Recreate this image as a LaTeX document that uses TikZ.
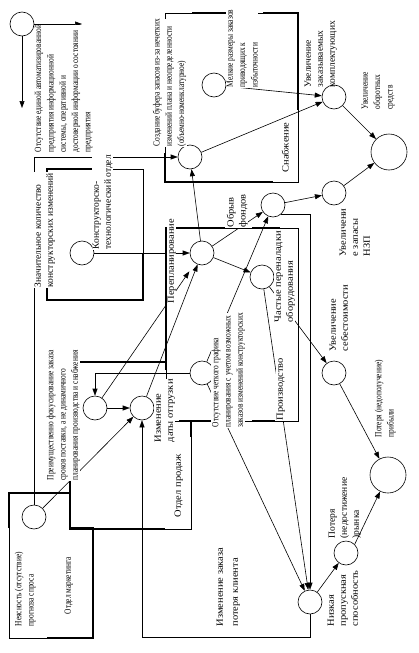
\documentclass[tikz,border=0pt]{standalone}
\usepackage{fontspec}
\setmainfont{Liberation Serif}
\newfontfamily\wfont{Liberation Serif}[FakeStretch=1.1]
\newfontfamily\cfont{Liberation Serif}[FakeStretch=0.78]
\usetikzlibrary{arrows.meta}
\begin{document}
\begin{tikzpicture}[x=1pt,y=-1pt,
 circ/.style={circle, draw, line width=0.6pt, minimum size=24pt, inner sep=0pt, fill=white},
 bigc/.style={circ, minimum size=36pt},
 arr/.style={-{Triangle[length=7pt,width=5pt]}, line width=0.6pt},
 thinl/.style={line width=0.6pt},
 thickl/.style={line width=2.4pt},
 lab/.style={rotate=90, anchor=north west, align=left, inner sep=0.5pt, fill=white, font=\fontsize{9.5}{12}\selectfont},
 labw/.style={lab, font=\wfont\fontsize{9.5}{12}\selectfont},
 labc/.style={lab, font=\cfont\fontsize{9.5}{12.3}\selectfont}]
\useasboundingbox (0,0) rectangle (419,653);
\fill[white] (0,0) rectangle (419,653);
% ---------- department frames ----------
% Snabzhenie
\draw[thinl] (165,13) rectangle (298,182);
\draw[thickl] (192,13) -- (227,13);
\draw[thickl] (263,13) -- (298,13) -- (298,110);
\draw[thickl] (165,153) -- (165,182) -- (273,182);
% KTO
\draw[thinl] (47,169) rectangle (143,300);
\draw[thickl] (93,169) -- (47,169) -- (47,300) -- (143,300) -- (143,253);
% Planning / production
\draw[thinl] (166,228) rectangle (298,421);
\draw[thickl] (166,370) -- (166,228) -- (225,228);
\draw[thickl] (252,228) -- (280,228);
\draw[thickl] (179,421) -- (213,421);
\draw[thickl] (252,421) -- (275,421);
% Sales
\draw[thickl] (70,362) -- (166,362);
\draw[thickl] (70,362) -- (70,529) -- (165,529);
\draw[thinl] (165,529) -- (191,529) -- (191,421);
\draw[thickl] (191,421) -- (191,437);
% Marketing
\draw[thickl] (9,528) -- (9,493) -- (70,493);
\draw[thinl] (9,528) -- (9,638) -- (47,638);
\draw[thickl] (47,638) -- (93,638) -- (93,528) -- (70,528);
% ---------- circles ----------
\node[circ] (c0) at (22,24) {};
\node[circ] (c2) at (190,157) {};
\node[circ] (c3) at (214,85) {};
\node[circ] (c4) at (334,97) {};
\node[bigc] (c5) at (389,152) {};
\node[circ] (c6) at (334,193) {};
\node[circ] (c7) at (273,205) {};
\node[circ] (c8) at (202,253) {};
\node[circ] (c9) at (262,277) {};
\node[circ] (c10) at (202,373) {};
\node[circ] (c11) at (142,408) {};
\node[circ] (c12) at (95,408) {};
\node[circ] (c13) at (34,517) {};
\node[circ] (c14) at (334,373) {};
\node[bigc] (c15) at (388,475) {};
\node[circ] (c16) at (346,553) {};
\node[circ] (c17) at (310,602) {};
\node[circ] (c18) at (82,253) {};
\coordinate (l1) at (82,24);
\coordinate (l2) at (22,108);
\coordinate (fb) at (310,637);
% ---------- connectors ----------
\draw[arr] (c0) -- (l1);
\draw[arr] (c0) -- (l2);
\draw[arr] (c13.north) |- (c2.west);
\draw[arr] (c2) -- (c4);
\draw[arr] (c3) -- (c4);
\draw[arr] (c4) -- (c5);
\draw[arr] (c6) -- (c5);
\draw[arr] (c7) -- (c6);
\draw[arr] (c7.-50) -| (c17.north);
\draw[arr] (c8) -- (c7);
\draw[arr] (c8) -- (c9);
\draw[arr] (c8) -- (c2);
\draw[arr] (c18) -- (c8);
\draw[arr] (c11) -- (c8);
\draw[arr, shorten >=10pt] (c12) -- (c8);
\draw[arr] (c12) -- (c11);
\draw[arr] (c13) -- (c11);
\draw[arr] (c17.south) -- (fb) -| (c11.south);
\draw[arr] (c10.west) -| (c12.north);
\draw[arr] (c10) -- (c17);
\draw[arr] (c10) -- (c7);
\draw[arr] (c9) -- (c14);
\draw[arr] (c9) -- (c17);
\draw[arr] (c14) -- (c15);
\draw[arr] (c16.45) -- (c15);
\draw[arr] (c17) -- (c16);
% ---------- labels ----------
\node[labc] (t1) at (34,153) {Отсутствие единой автоматизированной\\предприятия информационной\\системы, оперативной и\\достоверной информации о состоянии\\предприятия};
\node[labc] (t2) at (152,147) {Создание буфера запасов из-за нечетких\\изменений плана и неопределенности\\(объемно-номенклатурное)};
\node[labc] (t3) at (226,88) {Мелкие размеры заказов\\приводящих к\\избыточности};
\node[lab, fill=none] (t4) at (304,88) {Увеличение\\заказываемых\\комплектующих};
\node[labc, fill=none] (t5) at (361,110) {Увеличение\\оборотных\\средств};
\node[labw] (t6) at (281,173) {Снабжение};
\node[labw] (t7) at (226,228) {Обрыв\\фондов};
\node[labw] (t8) at (167,304) {Перепланирование};
\node[labw, fill=none] (t9) at (339,257) {Увеличени\\е запасы\\НЗП};
\node[labw] (t10) at (274,323) {Частые переналадки\\оборудования};
\node[labw] (t11) at (276,421) {Производство};
\node[labw, fill=none] (t12) at (329,352) {Увеличение\\себестоимости};
\node[labc, fill=none] (t13) at (374,438) {Потеря (недополучение)\\прибыли};
\node[lab, fill=none] (t14) at (328,539) {Потеря\\(недостижение\\)рынка};
\node[labw, fill=none] (t15) at (327,627) {Низкая\\пропускная\\способность};
\node[labw, fill=none, font=\wfont\fontsize{9.5}{15}\selectfont] (t16) at (216,627) {Изменение заказа\\потеря клиента};
\node[labw] (t17) at (174,518) {Отдел продаж};
\node[labw] (t18) at (154,443) {Изменение\\даты отгрузки};
\node[labc] (t19) at (211,428) {Отсутствие четкого графика\\планирования с учетом возможных\\заказов изменений конструкторских};
\node[lab] (t20) at (34,288) {Значительное количество\\конструкторских изменений};
\node[lab] (t21) at (92,250) {Конструкторско-\\технологический отдел};
\node[labc] (t22) at (46,481) {Преимущественно фокусирование заказа\\сроков поставки, а не динамичного\\планирования производства и снабжения};
\node[labc] (t23) at (14,627) {Неясность (отсутствие)\\прогноза спроса};
\node[labc] (t24) at (64,615) {Отдел маркетинга};
\end{tikzpicture}
\end{document}
